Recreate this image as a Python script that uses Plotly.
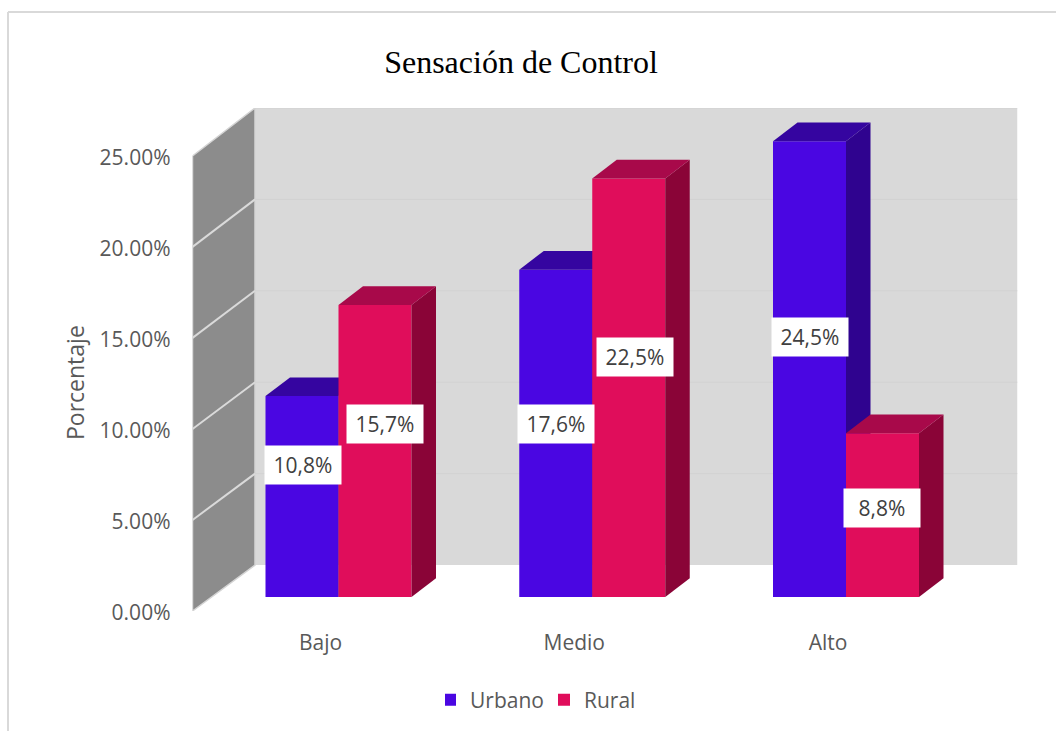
import plotly.graph_objects as go

# ---- data ----
categories = ["Bajo", "Medio", "Alto"]
urbano = [10.8, 17.6, 24.5]
rural = [15.7, 22.5, 8.8]
urbano_labels = ["10,8%", "17,6%", "24,5%"]
rural_labels = ["15,7%", "22,5%", "8,8%"]
y_ticks = [0, 5, 10, 15, 20, 25]
y_tick_labels = ["0.00%", "5.00%", "10.00%", "15.00%", "20.00%", "25.00%"]

# where each white label sits (value height on the bar axis, and sideways nudge in px)
urbano_label_at = [7.1, 9.3, 14.0]
rural_label_at = [9.3, 12.9, 4.8]
urbano_label_nudge = [1, 0.5, 0]
rural_label_nudge = [9.5, 6.5, -0.5]

# ---- colours ----
C_U, C_U_TOP, C_U_SIDE = "#4A06E2", "#3505A0", "#2F038F"
C_R, C_R_TOP, C_R_SIDE = "#E00D5B", "#A8094A", "#8A0437"
C_WALL, C_BACK, C_GRID = "#8C8C8C", "#D9D9D9", "#D2D2D2"
C_TEXT = "#595959"
FONT = "Open Sans"

# ---- frame geometry (px on the 1056x731 page) ----
W, H = 1056, 731
PL, PR, PT, PB = 192.5, 1017.5, 108, 611   # plot box
UNIT = 253.75                              # px per category
ZERO_X = 338.5                             # px of the first category centre
SCALE_WALL = 18.2                          # px per % on the wall axis
SCALE_BACK = 18.28                         # px per % on the far edge of the wall
SCALE_BAR = 18.6                           # px per % on the bar axis
BAR_BASE = 597                             # px of 0 % for the bars
BAR_W = 73 / UNIT
DEPTH_X, DEPTH_Y = 24.5 / UNIT, 18.7 / SCALE_BAR
WALL_DX, WALL_DY = 62.5 / UNIT, 46 / SCALE_WALL

x_min = (PL - ZERO_X) / UNIT
x_max = (PR - ZERO_X) / UNIT
wall_front = x_min
wall_back = x_min + WALL_DX
wall_top = 25


def back_y(v):
    return v * SCALE_BACK / SCALE_WALL + WALL_DY


fig = go.Figure()

# back wall
fig.add_trace(go.Scatter(
    x=[wall_back, x_max, x_max, wall_back, wall_back],
    y=[back_y(0), back_y(0), back_y(wall_top), back_y(wall_top), back_y(0)],
    fill="toself", fillcolor=C_BACK, mode="lines", line=dict(width=0),
    hoverinfo="skip", showlegend=False, xaxis="x", yaxis="y"))
# side wall
fig.add_trace(go.Scatter(
    x=[wall_front, wall_back, wall_back, wall_front, wall_front],
    y=[0, back_y(0), back_y(wall_top), wall_top, 0],
    fill="toself", fillcolor=C_WALL, mode="lines", line=dict(color="#D4D4D4", width=1.5),
    hoverinfo="skip", showlegend=False, xaxis="x", yaxis="y"))
# gridlines
for v in y_ticks[1:]:
    fig.add_trace(go.Scatter(
        x=[wall_back, x_max], y=[back_y(v), back_y(v)],
        mode="lines", line=dict(color=C_GRID, width=1),
        hoverinfo="skip", showlegend=False, xaxis="x", yaxis="y"))
for v in y_ticks[1:-1]:
    fig.add_trace(go.Scatter(
        x=[wall_front, wall_back], y=[v, back_y(v)],
        mode="lines", line=dict(color="#DADADA", width=2),
        hoverinfo="skip", showlegend=False, xaxis="x", yaxis="y"))


def add_series(name, values, offset, front, top, side, yaxis):
    xs = list(range(len(values)))
    fig.add_trace(go.Bar(
        x=xs, y=values, name=name, width=BAR_W, offset=offset,
        marker=dict(color=front, line=dict(width=0)),
        xaxis="x", yaxis=yaxis))
    for x, v in zip(xs, values):
        a = x + offset
        b = a + BAR_W
        fig.add_trace(go.Scatter(
            x=[b, b + DEPTH_X, b + DEPTH_X, b, b],
            y=[0, DEPTH_Y, v + DEPTH_Y, v, 0],
            fill="toself", fillcolor=side, mode="lines", line=dict(width=0),
            hoverinfo="skip", showlegend=False, xaxis="x", yaxis=yaxis))
        fig.add_trace(go.Scatter(
            x=[a, b, b + DEPTH_X, a + DEPTH_X, a],
            y=[v, v, v + DEPTH_Y, v + DEPTH_Y, v],
            fill="toself", fillcolor=top, mode="lines", line=dict(width=0),
            hoverinfo="skip", showlegend=False, xaxis="x", yaxis=yaxis))


add_series("Urbano", urbano, -BAR_W, C_U, C_U_TOP, C_U_SIDE, "y2")
add_series("Rural", rural, 0, C_R, C_R_TOP, C_R_SIDE, "y3")

# data labels
annotations = []
for i in range(len(categories)):
    annotations.append(dict(
        x=i - BAR_W / 2 + urbano_label_nudge[i] / UNIT, y=urbano_label_at[i],
        xref="x", yref="y3", text=urbano_labels[i], showarrow=False,
        bgcolor="#FFFFFF", width=74, height=36,
        font=dict(family=FONT, size=21, color="#404040")))
    annotations.append(dict(
        x=i + BAR_W / 2 + rural_label_nudge[i] / UNIT, y=rural_label_at[i],
        xref="x", yref="y3", text=rural_labels[i], showarrow=False,
        bgcolor="#FFFFFF", width=74, height=36,
        font=dict(family=FONT, size=21, color="#404040")))
# axis title
annotations.append(dict(
    x=75 / W, y=1 - 383 / H, xref="paper", yref="paper", text="Porcentaje",
    textangle=-90, showarrow=False, xanchor="center", yanchor="middle",
    font=dict(family=FONT, size=23, color=C_TEXT)))

bar_min = -(PB - BAR_BASE) / SCALE_BAR
bar_max = (BAR_BASE - PT) / SCALE_BAR
bar_axis = dict(overlaying="y", domain=[(H - PB) / H, (H - PT) / H],
                range=[bar_min, bar_max], visible=False, fixedrange=True)

fig.update_layout(
    width=W, height=H, autosize=False, margin=dict(l=0, r=0, t=0, b=0, autoexpand=False),
    paper_bgcolor="#FFFFFF", plot_bgcolor="rgba(0,0,0,0)",
    title=dict(text="Sensación de Control", x=521 / W, xanchor="center",
               y=1 - 62 / H, yanchor="middle",
               font=dict(family="Liberation Serif", size=32, color="#000000")),
    xaxis=dict(domain=[PL / W, PR / W], range=[x_min, x_max], anchor="y",
               tickvals=[i - 18 / UNIT for i in range(len(categories))],
               ticktext=categories, showgrid=False, zeroline=False, showline=False,
               ticks="", ticklabelstandoff=17, fixedrange=True,
               tickfont=dict(family=FONT, size=21, color=C_TEXT)),
    yaxis=dict(domain=[(H - PB) / H, (H - PT) / H],
               range=[0, (PB - PT) / SCALE_WALL],
               tickvals=y_ticks, ticktext=y_tick_labels,
               showgrid=False, zeroline=False, showline=False, ticks="",
               ticklabelstandoff=21, ticklabelshift=2, fixedrange=True,
               tickfont=dict(family=FONT, size=21, color=C_TEXT)),
    yaxis2=bar_axis,
    yaxis3=bar_axis,
    legend=dict(orientation="h", x=445 / W, xanchor="left", y=1 - 700 / H, yanchor="middle",
                indentation=-15, entrywidth=84, font=dict(family=FONT, size=21, color=C_TEXT),
                bgcolor="rgba(0,0,0,0)"),
    annotations=annotations,
    shapes=[
        dict(type="line", xref="paper", yref="paper", x0=8 / W, x1=1, y0=1 - 12 / H, y1=1 - 12 / H,
             line=dict(color="#D9D9D9", width=2)),
        dict(type="line", xref="paper", yref="paper", x0=8 / W, x1=8 / W, y0=0, y1=1 - 12 / H,
             line=dict(color="#D9D9D9", width=2)),
    ],
)

fig.write_html("out.html", config={"displayModeBar": False, "responsive": False},
               default_width=W, default_height=H,
               post_script="document.body.style.margin='0';document.body.style.overflow='hidden';")
